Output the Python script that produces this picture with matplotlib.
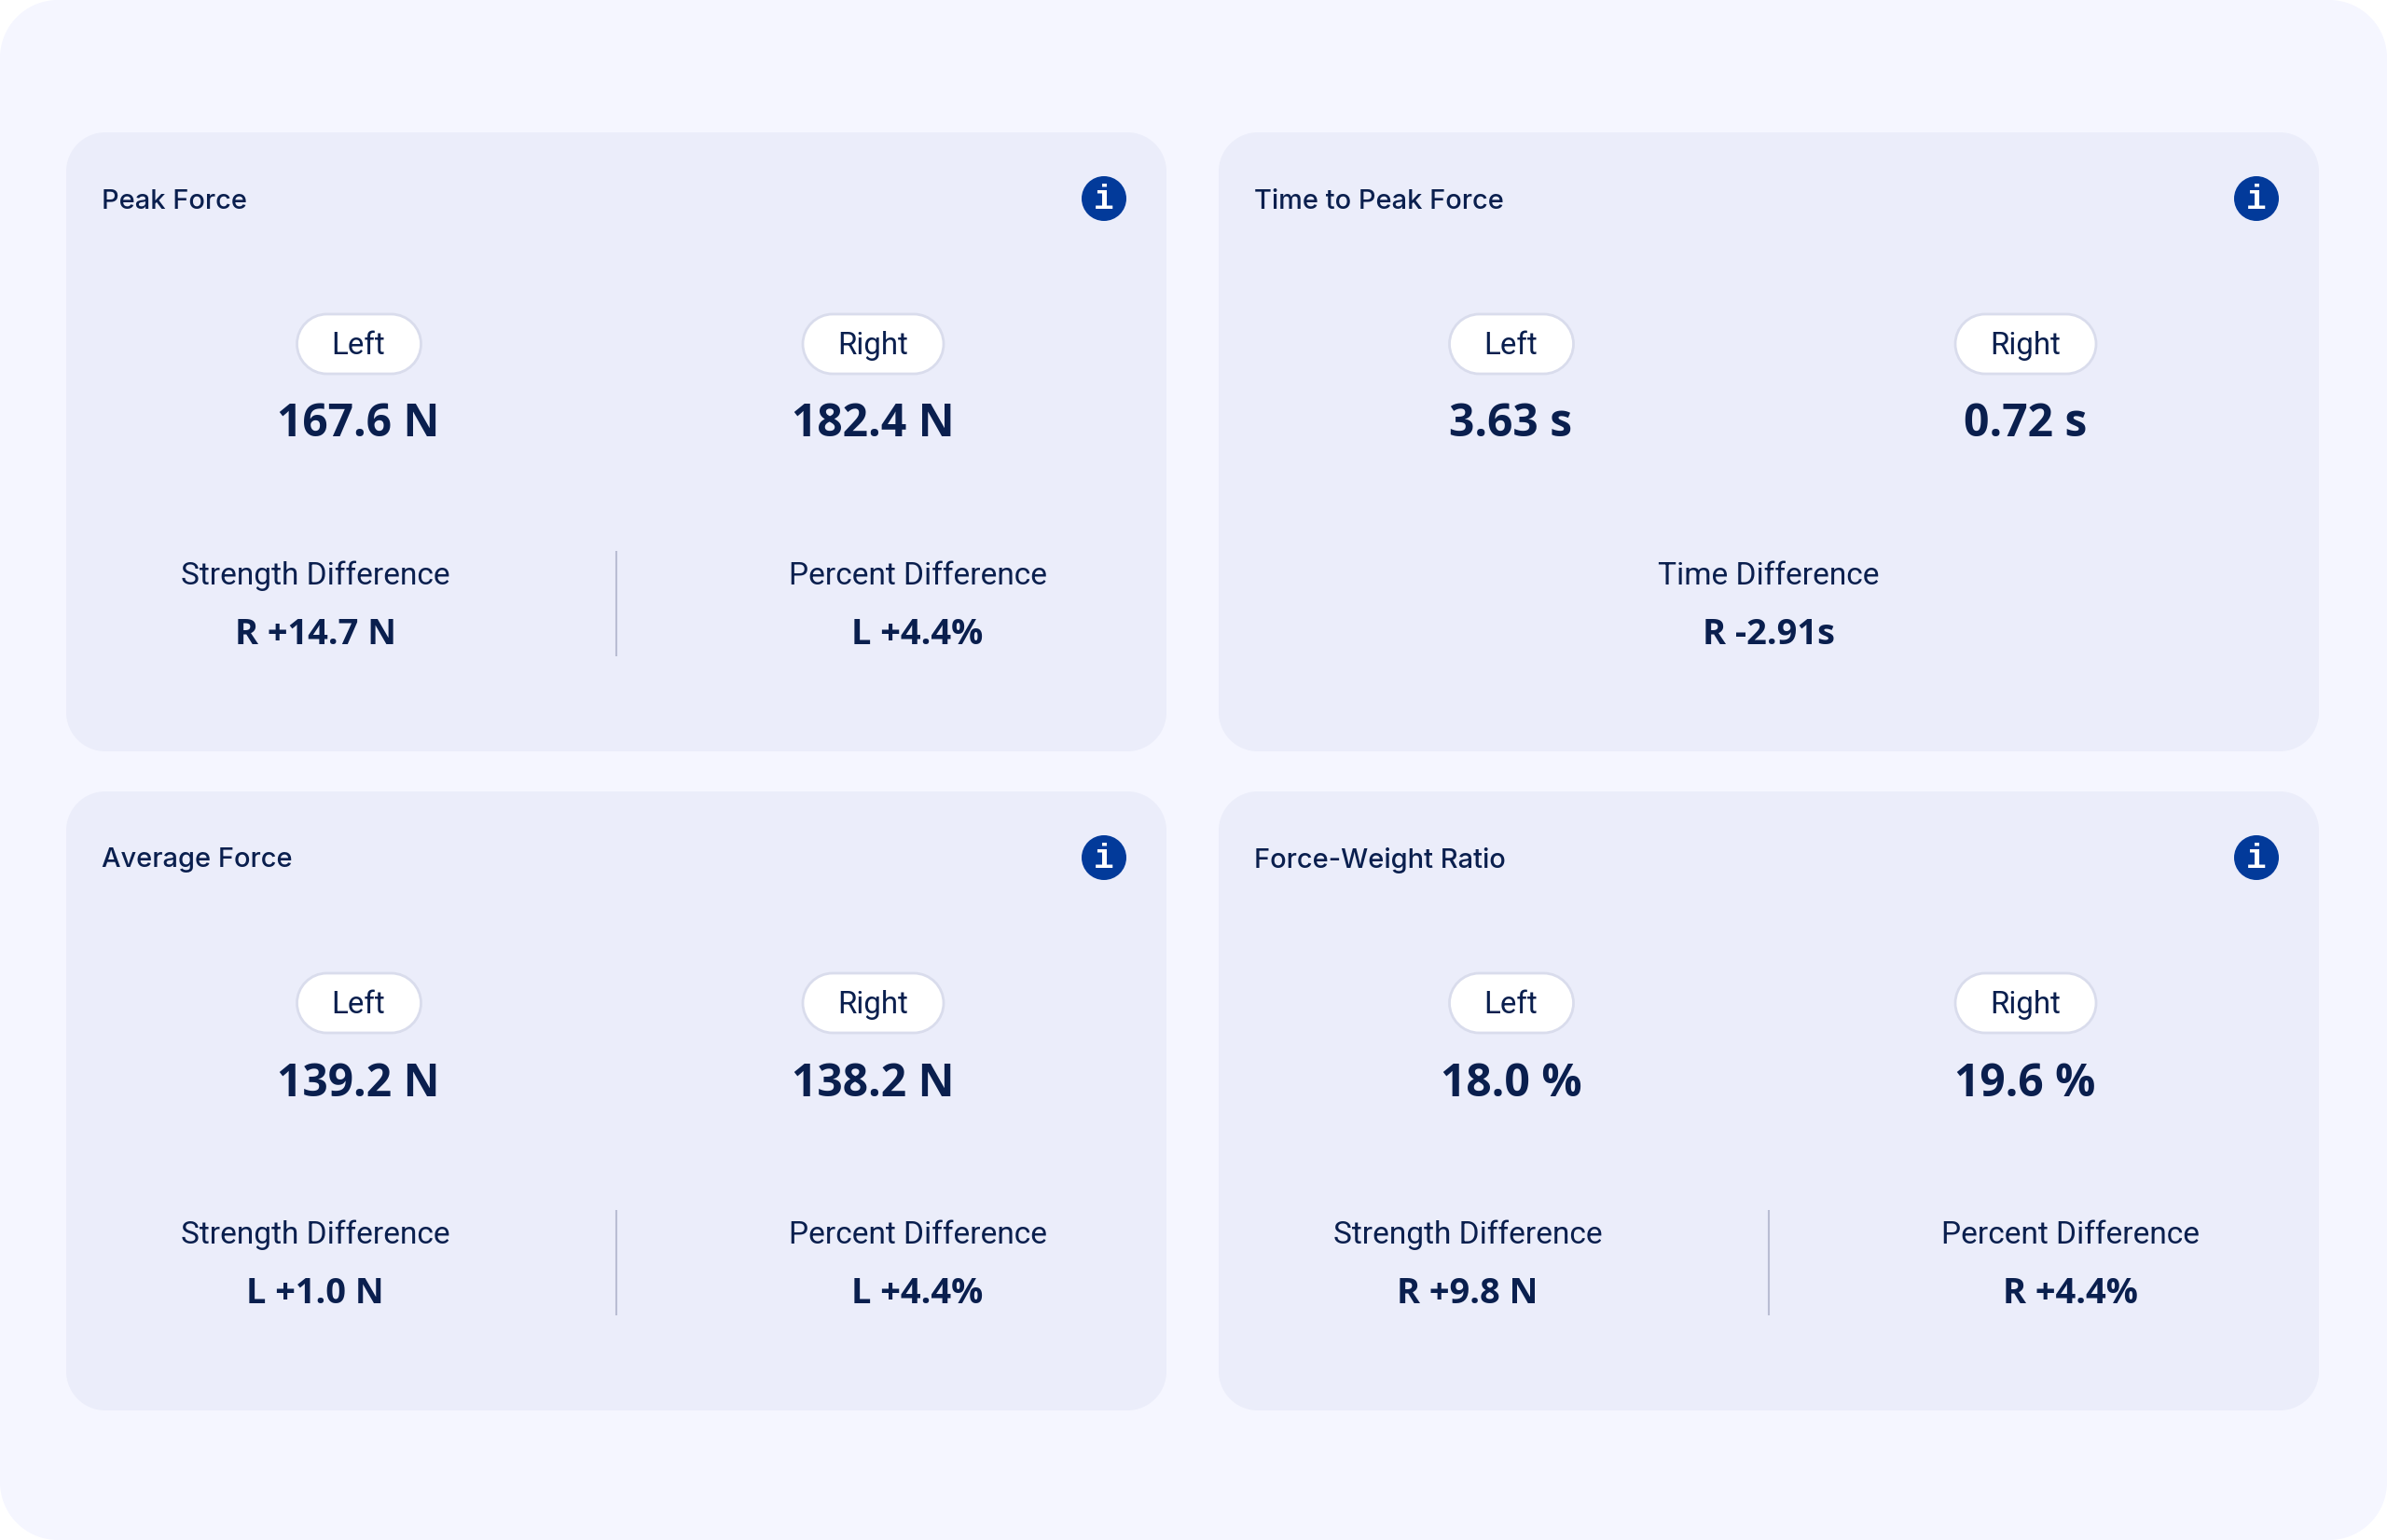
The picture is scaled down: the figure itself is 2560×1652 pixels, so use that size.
#!/usr/bin/env python3
# -*- coding: utf-8 -*-

import matplotlib
matplotlib.use("Agg")
import matplotlib.pyplot as plt
from matplotlib.patches import PathPatch, Circle
from matplotlib.path import Path

W, H = 2560, 1652

titles = ["Peak Force", "Time to Peak Force", "Average Force", "Force-Weight Ratio"]
left_values = ["167.6 N", "3.63 s", "139.2 N", "18.0 %"]
right_values = ["182.4 N", "0.72 s", "138.2 N", "19.6 %"]
diff_labels = [["Strength Difference", "Percent Difference"],
               ["Time Difference"],
               ["Strength Difference", "Percent Difference"],
               ["Strength Difference", "Percent Difference"]]
diff_values = [["R +14.7 N", "L +4.4%"],
               ["R -2.91s"],
               ["L +1.0 N", "L +4.4%"],
               ["R +9.8 N", "R +4.4%"]]

card_x = [71, 1307, 71, 1307]
card_y = [142, 142, 849, 849]
card_w = 1180
card_h = 664

BG = "#F5F6FF"
CARD = "#EBEDFA"
INK = "#0A1F4E"
BLUE = "#023A9A"
PILL_EDGE = "#D9DCEC"
RULE = "#B9BDD3"

plt.rcParams["font.family"] = ["Roboto", "DejaVu Sans"]


def px(size):
    return size * 0.72


def rbox(ax, x, y, w, h, r, **kw):
    # rounded rect with proper circular corners
    k = r * 0.4477
    x1, y1 = x + w, y + h
    verts = [(x + r, y), (x1 - r, y),
             (x1 - k, y), (x1, y + k), (x1, y + r),
             (x1, y1 - r),
             (x1, y1 - k), (x1 - k, y1), (x1 - r, y1),
             (x + r, y1),
             (x + k, y1), (x, y1 - k), (x, y1 - r),
             (x, y + r),
             (x, y + k), (x + k, y), (x + r, y),
             (x + r, y)]
    codes = [Path.MOVETO, Path.LINETO,
             Path.CURVE4, Path.CURVE4, Path.CURVE4,
             Path.LINETO,
             Path.CURVE4, Path.CURVE4, Path.CURVE4,
             Path.LINETO,
             Path.CURVE4, Path.CURVE4, Path.CURVE4,
             Path.LINETO,
             Path.CURVE4, Path.CURVE4, Path.CURVE4,
             Path.CLOSEPOLY]
    ax.add_patch(PathPatch(Path(verts, codes), **kw))


def pill(ax, cx, cy, w, label):
    rbox(ax, cx - w / 2, cy - 32, w, 64, 32, fc="white", ec=PILL_EDGE, lw=2)
    ax.text(cx - 0.5, cy + 2, label, ha="center", va="center", color=INK, fontsize=px(33))


fig = plt.figure(figsize=(W / 100, H / 100), dpi=100, facecolor="white")
ax = fig.add_axes([0, 0, 1, 1])
ax.set_xlim(0, W)
ax.set_ylim(H, 0)
ax.axis("off")

rbox(ax, 0, 0, W, H, 62, fc=BG, ec="none")

for i, title in enumerate(titles):
    x, y = card_x[i], card_y[i]
    rbox(ax, x, y, card_w, card_h, 42, fc=CARD, ec="none")

    ax.text(x + 38, y + 74, title, ha="left", va="center", color=INK,
            fontsize=px(29), family=["Inter", "DejaVu Sans"], fontweight="medium")

    # info icon
    ax.add_patch(Circle((x + 1113, y + 71), 24, fc=BLUE, ec="none"))
    ax.text(x + 1113, y + 72.5, "i", ha="center", va="center", color="white",
            fontsize=px(36), family=["Liberation Mono"], fontweight="bold")

    pill(ax, x + 314, y + 227, 133, "Left")
    pill(ax, x + 865.5, y + 227, 151, "Right")
    ax.text(x + 313.5, y + 314, left_values[i], ha="center", va="center",
            color=INK, fontsize=px(48), family=["Open Sans"], fontweight="bold")
    ax.text(x + 865, y + 314, right_values[i], ha="center", va="center",
            color=INK, fontsize=px(48), family=["Open Sans"], fontweight="bold")

    if len(diff_labels[i]) == 2:
        centers = [x + 267, x + 913]
        ax.plot([x + 590, x + 590], [y + 449, y + 562], color=RULE, lw=1.5,
                solid_capstyle="butt")
    else:
        centers = [x + 590]
    for cx, lab, val in zip(centers, diff_labels[i], diff_values[i]):
        ax.text(cx, y + 476, lab, ha="center", va="center", color=INK, fontsize=px(33.5))
        ax.text(cx, y + 539, val, ha="center", va="center", color=INK,
                fontsize=px(38), family=["Open Sans"], fontweight="bold")

fig.savefig("out.png", dpi=100, facecolor="white")
